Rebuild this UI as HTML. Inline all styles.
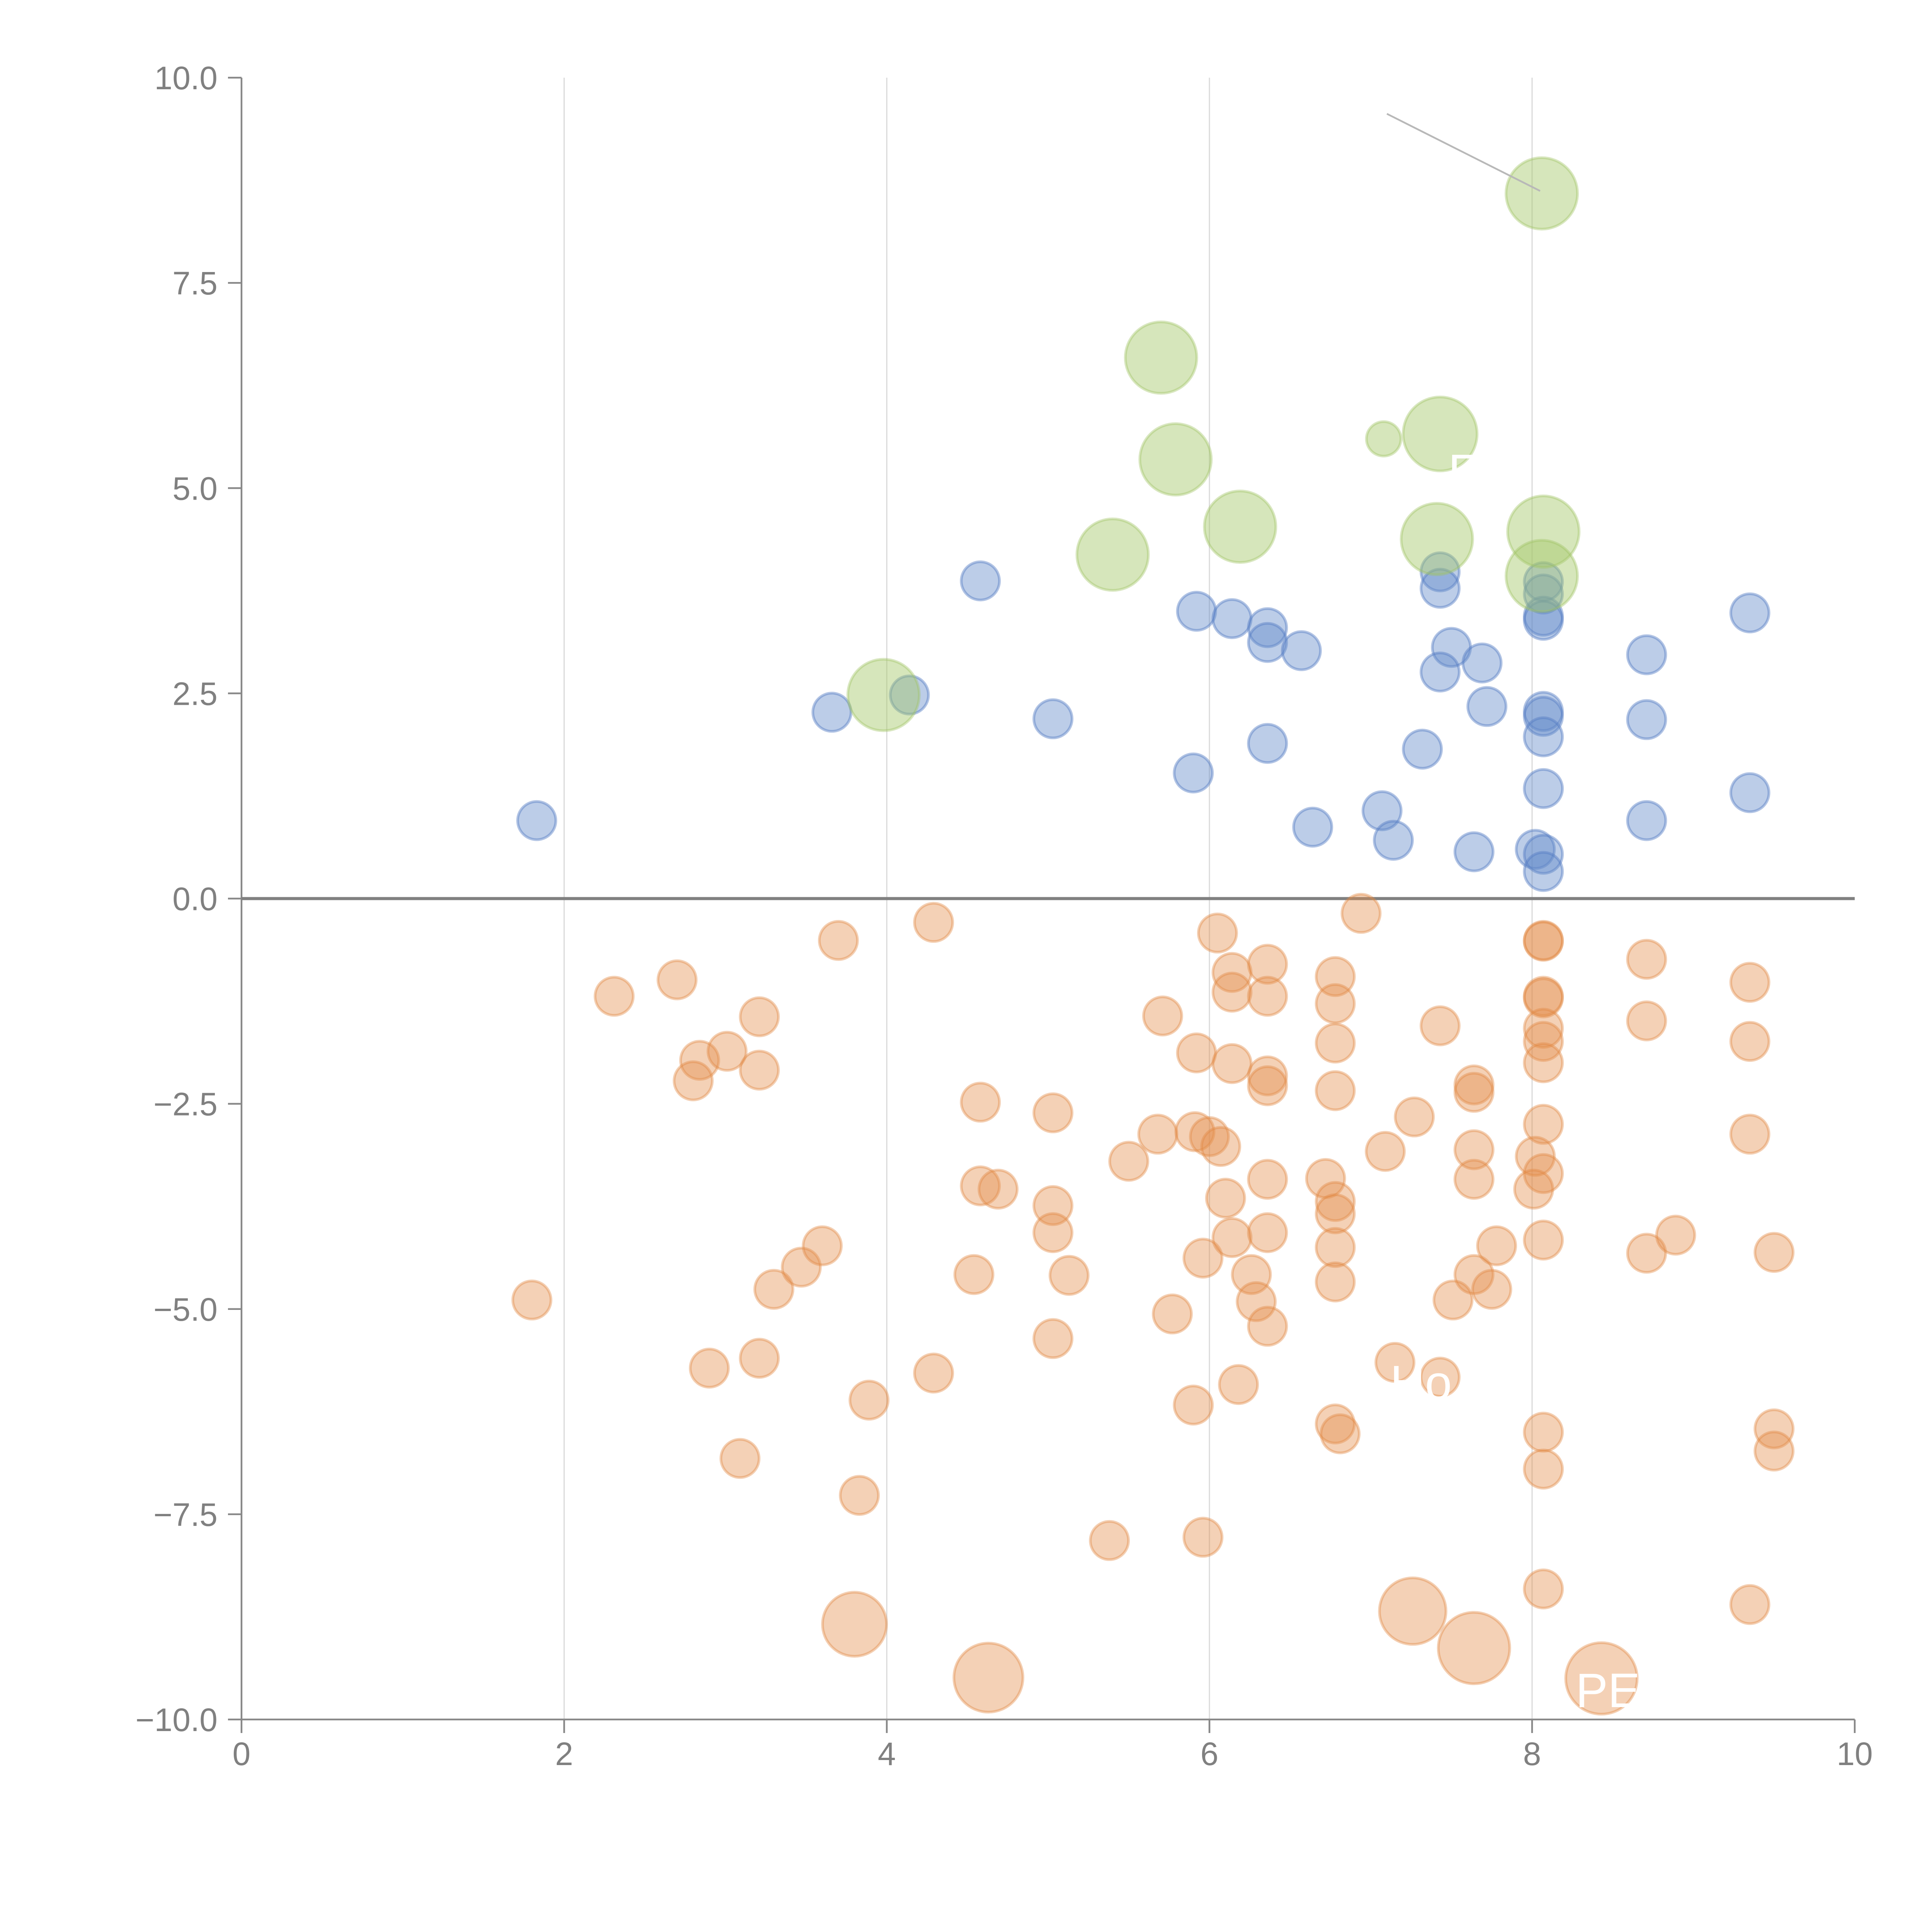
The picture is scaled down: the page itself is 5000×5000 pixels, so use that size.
<!DOCTYPE html>
<html><head><meta charset="utf-8"><style>html,body{margin:0;padding:0;background:#fff}svg{display:block}</style></head>
<body>
<svg id="chart" width="5000" height="5000" viewBox="0 0 5000 5000" xmlns="http://www.w3.org/2000/svg" font-family="Liberation Sans, sans-serif">
<g id="grid"></g>
<g id="axes"></g>
<g id="marks"></g>
<g id="labels"></g>
</svg>
<script>
const xTicks = [0, 2, 4, 6, 8, 10];
const yTicks = [-10, -7.5, -5, -2.5, 0, 2.5, 5, 7.5, 10];
const yTickLabels = ["\u221210.0", "\u22127.5", "\u22125.0", "\u22122.5", "0.0", "2.5", "5.0", "7.5", "10.0"];

const blueX = [1.83,3.66,4.14,4.58,5.03,5.92,6.14,6.36,6.36,6.57,5.90,6.36,6.64,7.07,7.14,7.32,7.43,7.43,7.50,7.43,7.69,7.72,7.64,8.07,8.07,8.07,8.07,8.07,8.07,8.07,8.07,8.02,8.07,8.07,8.71,8.71,8.71,9.35,9.35];
const blueY = [0.95,2.27,2.48,3.87,2.19,3.50,3.41,3.30,3.12,3.02,1.53,1.89,0.87,1.07,0.71,1.82,3.98,3.78,3.06,2.76,2.87,2.34,0.57,3.86,3.71,3.44,3.39,2.28,2.22,1.97,1.34,0.60,0.54,0.33,2.97,2.18,0.95,3.48,1.29];

const greenX = [8.06,5.70,5.79,7.08,7.43,6.19,5.40,7.41,8.07,8.06,3.98];
const greenY = [8.59,6.59,5.35,5.60,5.66,4.53,4.19,4.38,4.47,3.93,2.48];
const greenSize = [29,29,29,14,30,29,29,29,29,29,29];

const orangeX = [1.80,2.31,2.70,2.84,2.80,3.01,3.21,3.21,2.90,3.09,3.21,3.30,3.47,3.60,3.70,3.83,3.89,3.80,4.29,4.29,4.58,4.58,4.69,4.54,4.63,5.03,5.03,5.03,5.13,5.03,5.38,5.50,5.68,5.71,5.77,5.91,5.92,6.00,6.07,5.96,5.90,5.96,6.05,6.14,6.14,6.14,6.10,6.14,6.26,6.29,6.36,6.18,6.36,6.36,6.36,6.36,6.36,6.36,6.78,6.78,6.78,6.78,6.72,6.78,6.78,6.78,6.78,6.78,6.81,6.94,7.09,7.27,7.15,7.43,7.26,7.43,7.64,7.64,7.64,7.64,7.64,7.51,7.75,7.78,7.64,8.07,8.07,8.07,8.07,8.07,8.07,8.07,8.07,8.02,8.07,8.01,8.07,8.07,8.07,8.07,8.43,8.71,8.71,8.71,8.89,9.35,9.35,9.35,9.35,9.50,9.50,9.50];
const orangeY = [-4.89,-1.19,-0.99,-1.97,-2.22,-1.86,-1.44,-2.09,-5.72,-6.82,-5.60,-4.76,-4.49,-4.23,-0.51,-7.27,-6.11,-8.84,-0.29,-5.78,-2.48,-3.50,-3.54,-4.58,-9.49,-2.61,-3.74,-4.07,-4.59,-5.36,-7.82,-3.20,-2.87,-1.43,-5.06,-2.84,-1.88,-2.90,-3.02,-4.38,-6.17,-7.78,-0.42,-0.90,-1.14,-2.01,-3.65,-4.13,-4.58,-4.91,-5.21,-5.92,-0.80,-1.19,-2.16,-2.28,-3.42,-4.07,-0.95,-1.28,-1.76,-2.34,-3.41,-3.69,-3.84,-4.25,-4.67,-6.40,-6.52,-0.18,-3.08,-2.66,-5.65,-5.83,-8.68,-1.55,-2.27,-2.36,-3.06,-3.42,-4.58,-4.89,-4.76,-4.23,-9.13,-0.51,-0.52,-1.19,-1.21,-1.58,-1.74,-2.00,-2.75,-3.14,-3.35,-3.54,-4.16,-6.50,-6.95,-8.41,-9.50,-0.74,-1.49,-4.32,-4.10,-1.02,-1.74,-2.87,-8.60,-4.31,-6.46,-6.73];
const orangeBigIdx = [17, 24, 74, 84, 100];
const orangeBigSize = [26, 28, 27, 29, 29];

const leaderX = [7.10, 8.05];
const leaderY = [9.56, 8.62];

const X0 = 625, X1 = 4800, Y0 = 4450, Y1 = 201;
function sx(v){ return X0 + (v - 0) / 10 * (X1 - X0); }
function sy(v){ return Y0 - (v + 10) / 20 * (Y0 - Y1); }
const NS = "http://www.w3.org/2000/svg";
function mk(tag, parent, attrs){ const e = document.createElementNS(NS, tag); for (const k in attrs) e.setAttribute(k, attrs[k]); parent.appendChild(e); return e; }
const grid = document.getElementById('grid'), axes = document.getElementById('axes'), marks = document.getElementById('marks'), labels = document.getElementById('labels');

xTicks.forEach(function(t){
  if (t > 0 && t < 10) {
    const g = mk('line', grid, {x1: sx(t), x2: sx(t), y1: Y1, y2: Y0, stroke: '#d9d9d9', 'stroke-width': 3});
    
    
  }
  const tk = mk('line', axes, {x1: sx(t), x2: sx(t), y1: Y0, y2: Y0 + 35, stroke: '#888', 'stroke-width': 4.5});
  
  
  const tx = mk('text', axes, {x: sx(t), y: 4568, 'text-anchor': 'middle', 'font-size': 84, fill: '#808080'});
  tx.textContent = String(t);
  
  
});
yTicks.forEach(function(t, i){
  const tk = mk('line', axes, {x1: X0 - 35, x2: X0, y1: sy(t), y2: sy(t), stroke: '#888', 'stroke-width': 4.5});
  
  
  const tx = mk('text', axes, {x: 563, y: sy(t) + 30, 'text-anchor': 'end', 'font-size': 84, fill: '#808080'});
  tx.textContent = yTickLabels[i];
  
  
});
const ya = mk('line', axes, {x1: X0, x2: X0, y1: Y1, y2: Y0, stroke: '#888', 'stroke-width': 4.5});


const xa = mk('line', axes, {x1: X0, x2: X1, y1: Y0, y2: Y0, stroke: '#888', 'stroke-width': 4.5});


const zl = mk('line', axes, {x1: X0, x2: X1, y1: sy(0), y2: sy(0), stroke: '#808080', 'stroke-width': 8});



const S = 3.189;
function bubble(x, y, size, fill, stroke, name){
  const c = mk('circle', marks, {cx: sx(x), cy: sy(y), r: size * S, fill: fill, stroke: stroke, 'stroke-width': 7});
  
  
}
orangeX.forEach(function(x, i){
  const bi = orangeBigIdx.indexOf(i);
  const sz = bi >= 0 ? orangeBigSize[bi] : 15.5;
  bubble(x, orangeY[i], sz, 'rgba(228,140,72,0.4)', 'rgba(225,135,65,0.4)', 'orange-bubble');
});
blueX.forEach(function(x, i){
  bubble(x, blueY[i], 15.5, 'rgba(95,135,200,0.42)', 'rgba(85,125,195,0.45)', 'blue-bubble');
});
greenX.forEach(function(x, i){
  bubble(x, greenY[i], greenSize[i], 'rgba(165,200,105,0.45)', 'rgba(160,195,100,0.4)', 'green-bubble');
});

const ld = mk('line', labels, {x1: sx(leaderX[0]), y1: sy(leaderY[0]), x2: sx(leaderX[1]), y2: sy(leaderY[1]), stroke: '#b8b8b8', 'stroke-width': 4.5});


const lbls = [["PE", 8.27, -9.85], ["Ho", 7.12, -6.1], ["ES", 7.48, 5.0]];
lbls.forEach(function(l){
  const t = mk('text', labels, {x: sx(l[1]), y: sy(l[2]), 'font-size': 125, fill: '#fff'});
  t.textContent = l[0];
  
  
});
</script>
</body></html>
